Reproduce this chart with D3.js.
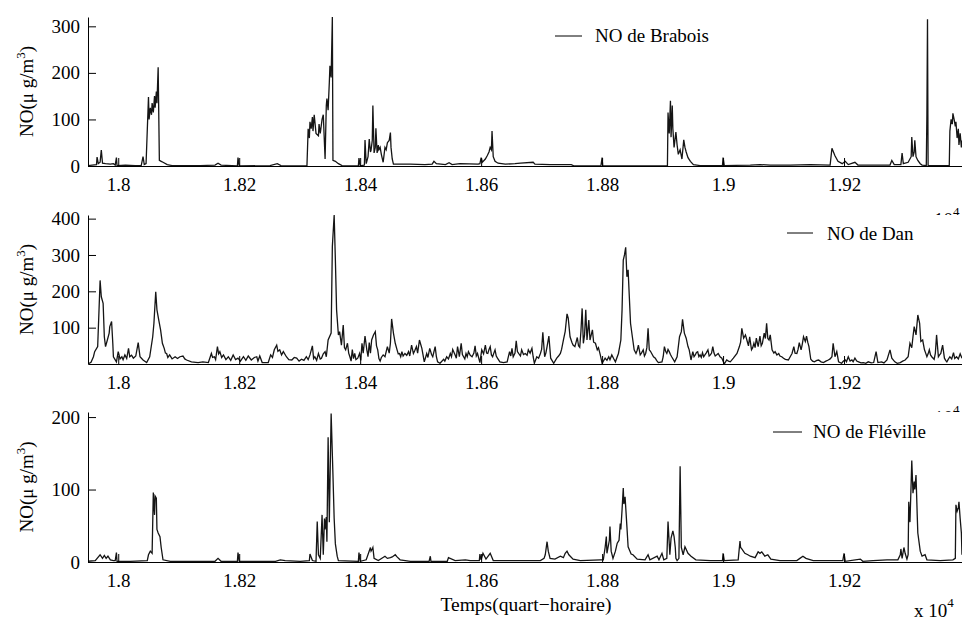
<!DOCTYPE html>
<html><head><meta charset="utf-8">
<script src="https://cdn.jsdelivr.net/npm/d3@7"></script>
<style>
body{margin:0;background:#fff}
svg{display:block}
</style>
</head><body>
<svg id="c" width="962" height="624" font-family="'Liberation Serif', 'Times New Roman', Times, 'DejaVu Serif', serif"></svg>
<script>
// ---------- data (time in quarter-hours, NO in µg/m3) ----------
const xTicks = [18000,18200,18400,18600,18800,19000,19200];
const yTicksBrabois = [0,100,200,300];
const yTicksDan = [100,200,300,400];
const yTicksFleville = [0,100,200];
const stationNames = ["NO de Brabois","NO de Dan","NO de Fléville"];
const yLabel = "NO(μ g/m";
const xLabel = "Temps(quart−horaire)";

const brabois = [[17950,1],[17957,2],[17964,3],[17965,19],[17967,5],[17970,8],[17972,34],[17974,6],[17979,5],[17987,4],[17992,5],[17995,2],[17997,18],[17998,1],[18012,2],[18028,1],[18038,1],[18041,20],[18043,3],[18046,5],[18050,148],[18051,100],[18053,125],[18055,110],[18056,135],[18058,115],[18060,150],[18061,125],[18063,160],[18064,135],[18066,212],[18068,12],[18071,10],[18074,8],[18081,3],[18089,1],[18136,1],[18160,2],[18165,6],[18170,2],[18197,0],[18198,18],[18200,0],[18251,1],[18263,5],[18269,1],[18312,0],[18314,80],[18316,60],[18317,95],[18319,80],[18321,105],[18322,75],[18324,110],[18327,70],[18331,65],[18332,90],[18334,70],[18337,100],[18339,110],[18342,15],[18344,130],[18345,145],[18347,120],[18349,180],[18350,215],[18352,190],[18354,320],[18355,12],[18359,10],[18364,5],[18370,1],[18397,0],[18398,17],[18400,0],[18407,2],[18408,56],[18410,5],[18413,20],[18415,58],[18417,30],[18418,34],[18420,55],[18421,130],[18423,28],[18425,40],[18426,81],[18428,28],[18430,45],[18431,35],[18433,40],[18435,25],[18438,8],[18441,40],[18443,35],[18445,50],[18448,55],[18450,72],[18451,40],[18453,15],[18455,4],[18483,4],[18507,3],[18519,4],[18522,10],[18526,5],[18541,3],[18547,7],[18552,3],[18565,5],[18595,4],[18598,5],[18600,18],[18602,8],[18607,15],[18610,22],[18613,30],[18615,40],[18617,35],[18618,75],[18620,20],[18623,10],[18628,6],[18640,4],[18656,5],[18665,6],[18686,8],[18689,4],[18714,3],[18739,3],[18749,3],[18754,0],[18798,0],[18800,18],[18801,0],[18908,0],[18909,115],[18911,70],[18913,140],[18914,62],[18916,130],[18917,80],[18919,40],[18922,73],[18924,45],[18926,25],[18929,35],[18932,15],[18935,56],[18937,40],[18939,30],[18942,18],[18946,10],[18951,3],[18962,1],[18999,1],[19000,18],[19002,1],[19045,2],[19061,3],[19078,2],[19111,2],[19144,3],[19177,2],[19180,38],[19185,22],[19190,10],[19197,5],[19202,10],[19207,3],[19218,8],[19223,2],[19276,2],[19279,12],[19283,3],[19294,3],[19296,28],[19298,5],[19306,8],[19311,20],[19312,62],[19314,20],[19316,30],[19317,55],[19319,20],[19322,12],[19326,5],[19329,2],[19336,1],[19337,110],[19338,315],[19339,1],[19374,1],[19375,75],[19377,100],[19379,90],[19380,113],[19382,100],[19384,85],[19385,95],[19387,60],[19389,80],[19390,45],[19392,70],[19394,40],[19395,55]];

const dan = [[17950,0],[17955,5],[17959,20],[17961,34],[17966,48],[17970,230],[17972,185],[17975,167],[17977,75],[17979,48],[17982,66],[17985,85],[17986,103],[17989,117],[17991,57],[17992,20],[17997,6],[18000,34],[18003,14],[18006,20],[18008,12],[18011,25],[18014,15],[18017,43],[18019,20],[18022,24],[18025,16],[18029,22],[18033,59],[18036,20],[18041,11],[18047,4],[18052,20],[18057,75],[18059,112],[18062,199],[18064,149],[18067,121],[18070,94],[18073,57],[18076,43],[18078,30],[18080,29],[18082,18],[18085,25],[18089,14],[18094,20],[18098,15],[18102,20],[18107,22],[18110,14],[18113,11],[18121,6],[18132,4],[18140,6],[18149,4],[18154,29],[18156,18],[18159,20],[18161,12],[18164,48],[18166,28],[18168,34],[18171,18],[18174,25],[18178,12],[18182,20],[18186,10],[18190,25],[18194,12],[18198,16],[18202,8],[18207,20],[18211,10],[18215,22],[18220,11],[18225,18],[18229,20],[18231,8],[18234,22],[18238,4],[18248,4],[18252,25],[18255,18],[18258,39],[18262,52],[18264,35],[18267,39],[18270,25],[18273,34],[18278,20],[18282,12],[18287,11],[18291,18],[18295,16],[18299,8],[18303,13],[18307,10],[18311,20],[18314,12],[18317,25],[18321,50],[18323,15],[18325,20],[18328,10],[18331,29],[18334,14],[18336,16],[18339,28],[18342,34],[18344,20],[18347,66],[18352,85],[18354,323],[18357,410],[18359,286],[18361,149],[18364,80],[18366,89],[18369,52],[18372,107],[18374,45],[18376,39],[18379,57],[18381,30],[18383,20],[18385,8],[18387,40],[18389,15],[18391,29],[18393,12],[18396,16],[18399,29],[18401,10],[18403,57],[18405,30],[18408,77],[18411,39],[18413,20],[18415,59],[18417,30],[18419,66],[18422,80],[18425,89],[18427,50],[18429,39],[18431,15],[18433,8],[18435,18],[18438,25],[18441,20],[18445,48],[18448,30],[18450,57],[18452,124],[18455,85],[18458,57],[18461,39],[18463,28],[18465,29],[18467,20],[18469,34],[18471,22],[18474,29],[18477,24],[18480,34],[18482,22],[18485,52],[18488,29],[18490,36],[18493,48],[18495,30],[18498,66],[18502,43],[18506,6],[18510,29],[18512,18],[18515,43],[18518,26],[18520,20],[18524,48],[18526,20],[18528,6],[18532,2],[18538,13],[18540,8],[18543,20],[18546,14],[18549,29],[18551,20],[18553,40],[18557,25],[18559,16],[18561,48],[18564,20],[18567,57],[18569,26],[18571,20],[18573,14],[18575,29],[18577,20],[18579,34],[18582,24],[18585,20],[18588,30],[18590,50],[18592,22],[18594,29],[18598,4],[18601,39],[18604,28],[18607,52],[18609,30],[18611,29],[18613,40],[18615,48],[18617,25],[18619,20],[18621,30],[18623,39],[18625,22],[18627,16],[18631,6],[18637,4],[18643,6],[18647,34],[18649,22],[18651,43],[18653,20],[18656,30],[18658,64],[18660,34],[18662,29],[18665,22],[18667,39],[18670,26],[18673,29],[18676,24],[18678,39],[18681,30],[18684,43],[18686,20],[18688,2],[18692,20],[18695,16],[18698,29],[18700,40],[18702,87],[18705,20],[18707,30],[18709,48],[18712,77],[18715,16],[18720,2],[18725,16],[18728,22],[18731,29],[18733,40],[18736,66],[18739,90],[18742,138],[18744,126],[18747,75],[18750,60],[18752,52],[18755,48],[18757,60],[18759,73],[18761,50],[18763,46],[18765,90],[18767,153],[18769,57],[18771,80],[18773,149],[18775,66],[18778,121],[18780,66],[18782,80],[18784,94],[18786,60],[18789,57],[18792,39],[18794,45],[18797,25],[18800,2],[18805,16],[18808,10],[18811,20],[18813,12],[18816,25],[18819,15],[18822,6],[18827,29],[18831,66],[18833,149],[18835,286],[18837,300],[18839,321],[18841,240],[18843,259],[18845,185],[18847,112],[18850,75],[18853,39],[18856,29],[18858,38],[18860,52],[18863,25],[18865,30],[18868,39],[18870,22],[18872,29],[18874,45],[18876,98],[18878,39],[18880,35],[18882,29],[18885,20],[18888,16],[18890,10],[18893,4],[18899,6],[18901,20],[18903,48],[18905,35],[18907,29],[18909,40],[18911,34],[18913,26],[18915,20],[18920,6],[18924,20],[18928,75],[18931,89],[18933,123],[18936,85],[18939,71],[18942,48],[18944,39],[18947,11],[18950,34],[18952,20],[18954,25],[18956,32],[18958,34],[18960,20],[18962,25],[18964,18],[18966,31],[18968,20],[18970,25],[18972,30],[18975,39],[18977,22],[18979,25],[18981,30],[18983,48],[18985,30],[18987,22],[18990,26],[18992,29],[18995,20],[18998,16],[19002,0],[19006,11],[19009,8],[19012,6],[19017,16],[19023,29],[19027,48],[19029,60],[19031,98],[19034,71],[19037,80],[19040,62],[19042,50],[19044,75],[19047,39],[19049,45],[19051,57],[19053,45],[19055,71],[19058,48],[19061,77],[19063,50],[19065,57],[19068,85],[19070,70],[19072,112],[19074,70],[19076,66],[19078,80],[19081,39],[19084,30],[19086,34],[19089,25],[19092,29],[19094,22],[19097,20],[19100,16],[19103,13],[19108,11],[19111,20],[19114,29],[19117,48],[19119,30],[19122,29],[19124,40],[19126,59],[19129,39],[19131,55],[19133,75],[19136,62],[19138,77],[19140,60],[19142,48],[19145,13],[19148,8],[19151,6],[19155,10],[19158,11],[19162,6],[19166,4],[19170,8],[19174,11],[19177,14],[19180,20],[19182,57],[19185,20],[19188,34],[19191,6],[19196,2],[19199,8],[19202,11],[19204,6],[19207,20],[19210,8],[19213,11],[19215,6],[19218,16],[19221,8],[19224,6],[19228,3],[19232,4],[19236,2],[19240,6],[19245,3],[19249,4],[19253,34],[19256,4],[19262,6],[19266,3],[19271,11],[19276,39],[19279,16],[19284,6],[19288,2],[19293,4],[19297,8],[19301,11],[19306,20],[19309,57],[19312,45],[19314,75],[19316,103],[19319,80],[19322,135],[19325,112],[19327,62],[19330,66],[19333,39],[19335,30],[19337,20],[19339,28],[19341,39],[19343,25],[19345,20],[19349,13],[19351,30],[19353,80],[19356,20],[19358,25],[19360,29],[19363,52],[19366,16],[19368,10],[19370,6],[19372,12],[19375,20],[19378,14],[19381,31],[19383,15],[19386,20],[19389,14],[19392,28],[19395,16]];

const fleville = [[17950,1],[17962,2],[17970,10],[17974,5],[17977,9],[17980,5],[17983,8],[17987,3],[17992,2],[17995,2],[17997,13],[17998,1],[18020,1],[18048,2],[18050,10],[18053,15],[18056,12],[18058,96],[18060,65],[18061,91],[18063,88],[18064,45],[18066,40],[18069,35],[18071,20],[18074,3],[18086,1],[18160,1],[18165,5],[18170,1],[18197,1],[18198,13],[18200,1],[18260,1],[18268,3],[18276,2],[18301,1],[18316,2],[18317,11],[18321,2],[18327,1],[18329,56],[18331,10],[18334,5],[18337,65],[18339,10],[18341,60],[18342,45],[18344,62],[18345,28],[18347,172],[18349,55],[18352,205],[18355,120],[18357,60],[18359,25],[18362,8],[18364,2],[18397,1],[18398,13],[18400,1],[18410,3],[18417,20],[18418,15],[18420,18],[18421,20],[18423,5],[18430,2],[18441,8],[18445,5],[18450,6],[18453,7],[18458,10],[18461,7],[18466,3],[18483,1],[18514,1],[18516,8],[18517,1],[18544,1],[18546,6],[18557,2],[18574,3],[18582,2],[18597,2],[18598,11],[18600,3],[18603,12],[18608,4],[18615,12],[18620,2],[18665,2],[18698,2],[18704,5],[18706,10],[18709,28],[18711,15],[18714,5],[18722,4],[18731,8],[18736,6],[18739,12],[18742,15],[18745,10],[18752,4],[18764,2],[18797,3],[18802,3],[18805,20],[18807,35],[18808,12],[18812,30],[18813,49],[18815,15],[18818,5],[18822,15],[18825,26],[18828,30],[18830,53],[18831,45],[18833,72],[18835,102],[18836,80],[18838,90],[18841,49],[18843,21],[18848,11],[18851,10],[18858,4],[18871,3],[18876,10],[18879,3],[18891,8],[18894,3],[18899,12],[18902,3],[18907,5],[18909,56],[18912,10],[18914,33],[18917,43],[18919,35],[18921,20],[18922,5],[18924,2],[18927,5],[18929,132],[18931,20],[18934,10],[18937,21],[18942,12],[18947,8],[18955,3],[18979,2],[18999,2],[19000,12],[19002,2],[19025,3],[19028,29],[19029,20],[19031,18],[19036,12],[19041,10],[19045,8],[19053,6],[19058,14],[19061,12],[19064,14],[19069,8],[19074,10],[19079,4],[19094,2],[19122,2],[19127,5],[19132,8],[19137,5],[19149,2],[19172,2],[19198,2],[19200,12],[19202,1],[19227,4],[19231,1],[19248,2],[19271,3],[19289,3],[19293,10],[19294,18],[19296,5],[19299,20],[19301,12],[19304,4],[19306,10],[19307,83],[19309,55],[19311,110],[19312,140],[19314,95],[19316,111],[19317,100],[19319,120],[19321,65],[19322,40],[19326,15],[19329,8],[19334,10],[19337,3],[19359,2],[19380,3],[19384,5],[19385,79],[19387,70],[19389,75],[19390,83],[19392,60],[19394,40],[19395,10]];

// ---------- layout ----------
const W = 962, left = 88, right = 965;
const FONT = "'Liberation Serif', 'Times New Roman', Times, 'DejaVu Serif', serif";
const panels = [
  {data: brabois,  name: stationNames[0], ticks: yTicksBrabois,  ymax: 320, top: 17,  bottom: 166, leg: {x1: 555, x2: 582, y: 36,  tx: 595, ty: 42}},
  {data: dan,      name: stationNames[1], ticks: yTicksDan,      ymax: 410, top: 215, bottom: 364, leg: {x1: 787, x2: 813, y: 233, tx: 827, ty: 240}},
  {data: fleville, name: stationNames[2], ticks: yTicksFleville, ymax: 207, top: 412, bottom: 562, leg: {x1: 773, x2: 802, y: 432, tx: 813, ty: 438}}
];

const svg = d3.select("#c");
const x = d3.scaleLinear().domain([17950, 19400]).range([left, right]);
const fmt = d => String(+(d / 1e4).toFixed(2));
const FS = 19;

panels.forEach((p, i) => {
  const g = svg.append("g");
  // axes background: hides most of the previous panel's exponent label, as in the original figure
  g.append("rect").attr("x", left).attr("y", p.top).attr("width", W - left).attr("height", p.bottom - p.top).attr("fill", "#fff");

  const y = d3.scaleLinear().domain([0, p.ymax]).range([p.bottom, p.top]);

  const cid = "clip" + i;
  svg.append("clipPath").attr("id", cid).append("rect")
    .attr("x", left).attr("y", p.top - 1).attr("width", W - left).attr("height", p.bottom - p.top + 1);

  g.append("path").datum(p.data)
    .attr("clip-path", `url(#${cid})`)
    .attr("fill", "none").attr("stroke", "#151515").attr("stroke-width", 1.3)
    .attr("d", d3.line().x(d => x(d[0])).y(d => y(d[1])));

  const gx = g.append("g").attr("transform", `translate(0,${p.bottom})`)
    .call(d3.axisBottom(x).tickValues(xTicks).tickSizeInner(-8).tickSizeOuter(0).tickPadding(12).tickFormat(fmt));
  const gy = g.append("g").attr("transform", `translate(${left},0)`)
    .call(d3.axisLeft(y).tickValues(p.ticks).tickSizeInner(-8).tickSizeOuter(0).tickPadding(8));
  [gx, gy].forEach(a => {
    a.attr("font-family", FONT).attr("font-size", FS);
    a.selectAll("path,line").attr("stroke", "#000");
    a.selectAll("text").attr("fill", "#000").attr("font-family", FONT);
  });

  g.append("line").attr("x1", p.leg.x1).attr("x2", p.leg.x2).attr("y1", p.leg.y).attr("y2", p.leg.y)
    .attr("stroke", "#000").attr("stroke-width", 1);
  g.append("text").attr("x", p.leg.tx).attr("y", p.leg.ty).attr("font-size", FS).attr("font-family", FONT).text(p.name);

  const yl = g.append("text")
    .attr("transform", `translate(33,${(p.top + p.bottom) / 2}) rotate(-90)`)
    .attr("text-anchor", "middle").attr("font-size", FS).attr("font-family", FONT);
  yl.append("tspan").text(yLabel);
  yl.append("tspan").attr("font-size", 13).attr("dy", -8).text("3");
  yl.append("tspan").attr("dy", 8).text(")");

  if (i === panels.length - 1) {
    const ex = g.append("text").attr("x", 914).attr("y", 617).attr("font-size", FS).attr("font-family", FONT);
    ex.append("tspan").text("x 10");
    ex.append("tspan").attr("font-size", 13).attr("dy", -10).text("4");
  } else {
    // only the top of this exponent label peeks out above the next panel
    const ex = g.append("text").attr("x", 934).attr("y", p.bottom + 60).attr("font-size", FS).attr("font-family", FONT);
    ex.append("tspan").text("10");
    ex.append("tspan").attr("font-size", 13).attr("dy", -10).text("4");
  }
});

svg.append("text").attr("x", 526).attr("y", 611).attr("text-anchor", "middle")
  .attr("font-size", 19.5).attr("font-family", FONT).text(xLabel);
</script>
</body></html>
